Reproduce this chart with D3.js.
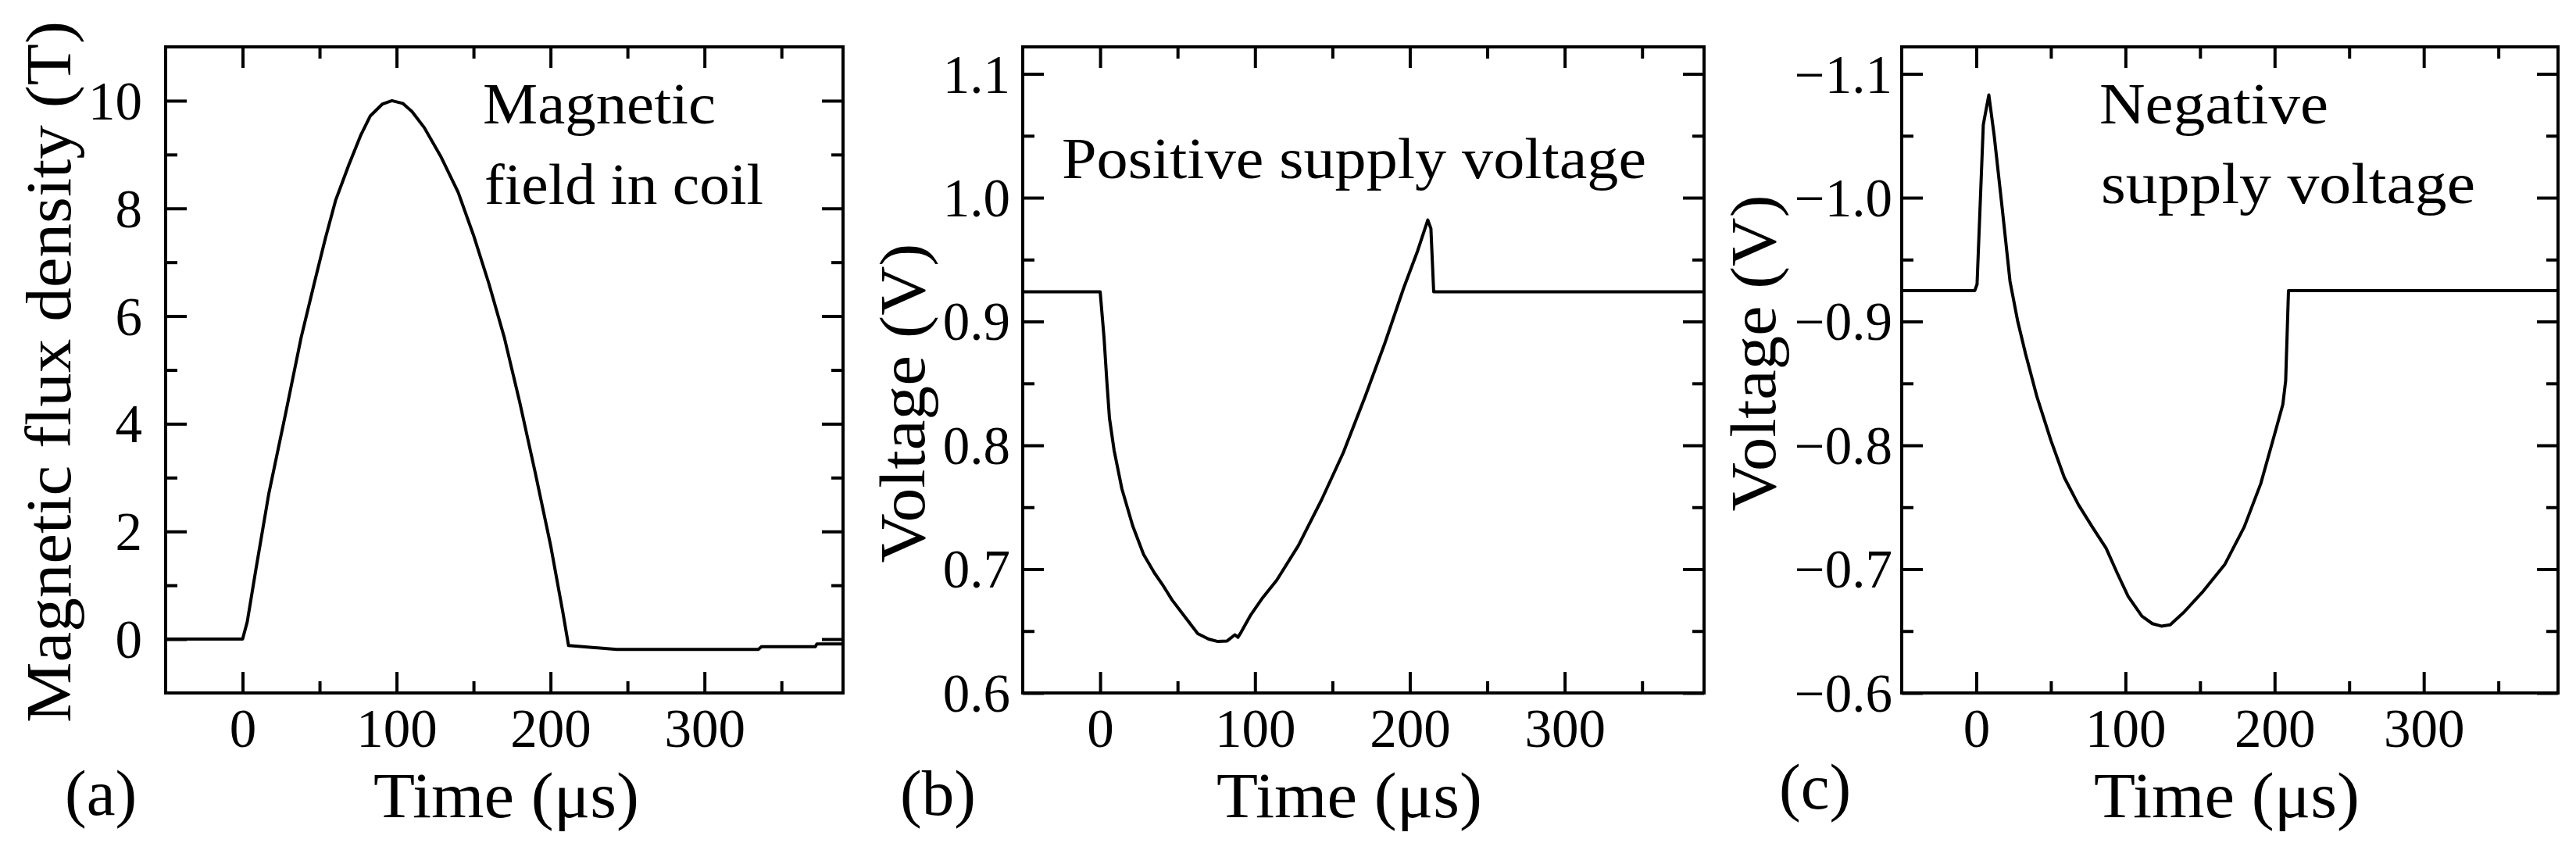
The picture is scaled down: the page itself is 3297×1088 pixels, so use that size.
<!DOCTYPE html>
<html>
<head>
<meta charset="utf-8">
<script src="https://cdn.jsdelivr.net/npm/d3@7"></script>
<style>
  html, body { margin: 0; padding: 0; background: #fff; }
  svg { display: block; }
  text { font-family: "Liberation Serif", "Times New Roman", serif; fill: #000; }
</style>
</head>
<body>
<svg id="chart" width="3297" height="1088"></svg>
<script>
// ---------- data ----------
const timeDomain = [-50, 390];
const xMajorTicks = [0, 100, 200, 300];
const xMinorTicks = [50, 150, 250, 350];

// (a) magnetic flux density (T)
const tA = [-50, 0, 3, 8.6, 17, 28, 38, 46.7, 53.8, 60.4, 69, 76.6, 83, 90.9, 97, 104, 110, 118, 129, 140, 150, 160, 170, 180, 190, 200, 208, 211.7, 221, 243, 335, 337, 372, 373, 390];
const bA = [0, 0, 0.32, 1.29, 2.7, 4.2, 5.6, 6.63, 7.45, 8.15, 8.81, 9.35, 9.72, 9.94, 10.0, 9.95, 9.8, 9.5, 8.95, 8.3, 7.5, 6.6, 5.6, 4.4, 3.1, 1.75, 0.5, -0.12, -0.14, -0.19, -0.19, -0.14, -0.14, -0.09, -0.09];
const yDomainA = [-1, 11];
const yMajorA = [0, 2, 4, 6, 8, 10];
const yMinorA = [1, 3, 5, 7, 9];

// (b) positive supply voltage (V)
const tB = [-50, 0, 2.5, 4.3, 6, 9, 14, 21, 28, 35, 40, 46.5, 55, 63, 70, 76, 82, 87, 89, 91, 97, 105, 114, 128, 143, 157, 171, 184, 196, 205, 211.6, 213.6, 215.4, 390];
const vB = [0.924, 0.924, 0.887, 0.852, 0.822, 0.796, 0.765, 0.735, 0.712, 0.697, 0.688, 0.675, 0.661, 0.648, 0.6435, 0.6416, 0.642, 0.647, 0.645, 0.649, 0.6625, 0.677, 0.691, 0.719, 0.756, 0.794, 0.839, 0.883, 0.927, 0.957, 0.982, 0.975, 0.924, 0.924];
const yDomainB = [0.6, 1.1218];
const yMajorB = [0.6, 0.7, 0.8, 0.9, 1.0, 1.1];
const yMinorB = [0.65, 0.75, 0.85, 0.95, 1.05];

// (c) negative supply voltage (V)
const tC = [-50, -1, 0.5, 4.7, 8.4, 12, 17.4, 22.6, 27.8, 33, 40.7, 50, 59, 68.5, 77.8, 87, 94.4, 101.8, 111, 118, 124, 130, 139, 152, 166.7, 179.6, 190.7, 200, 205.5, 207.4, 209.3, 390];
const vC = [-0.925, -0.925, -0.93, -1.059, -1.083, -1.050, -0.991, -0.9325, -0.900, -0.874, -0.839, -0.804, -0.774, -0.752, -0.734, -0.717, -0.697, -0.678, -0.662, -0.656, -0.654, -0.655, -0.665, -0.682, -0.704, -0.734, -0.769, -0.809, -0.833, -0.852, -0.925, -0.925];
const yDomainC = [-0.6, -1.1218];
const yMajorC = [-0.6, -0.7, -0.8, -0.9, -1.0, -1.1];
const yMinorC = [-0.65, -0.75, -0.85, -0.95, -1.05];

const xTitle = "Time (\u03bcs)";
const yTitles = ["Magnetic flux density (T)", "Voltage (V)", "Voltage (V)"];
const panelLetters = ["(a)", "(b)", "(c)"];
const notesA = ["Magnetic", "field in coil"];
const notesB = ["Positive supply voltage"];
const notesC = ["Negative", "supply voltage"];

// ---------- layout ----------
const TOP = 60, BOTTOM = 887;
const MAJOR = 27, MINOR = 15, SW = 4;
const TICK_FONT = 69, TITLE_FONT = 83, NOTE_FONT = 74;

const panels = [
  { left: 212, right: 1079, t: tA, v: bA, ydom: yDomainA, major: yMajorA, minor: yMinorA,
    fmt: d3.format("d"), labelPad: 30,
    ytitle: { x: 90, y: 476, len: 898 }, xtitle: { cx: 648, len: 340 },
    letter: { x: 83, y: 1043 },
    notes: notesA, notePos: [{ x: 618, y: 158, len: 298 }, { x: 620, y: 261, len: 357 }] },
  { left: 1309, right: 2181, t: tB, v: vB, ydom: yDomainB, major: yMajorB, minor: yMinorB,
    fmt: d3.format(".1f"), labelPad: 16,
    ytitle: { x: 1183, y: 516, len: 409 }, xtitle: { cx: 1727, len: 340 },
    letter: { x: 1152, y: 1043 },
    notes: notesB, notePos: [{ x: 1359, y: 228, len: 748 }] },
  { left: 2434, right: 3274, t: tC, v: vC, ydom: yDomainC, major: yMajorC, minor: yMinorC,
    fmt: d3.format(".1f"), labelPad: 12,
    ytitle: { x: 2272, y: 452, len: 405 }, xtitle: { cx: 2850, len: 340 },
    letter: { x: 2277, y: 1035 },
    notes: notesC, notePos: [{ x: 2687, y: 158, len: 293 }, { x: 2689, y: 260, len: 479 }] }
];

const svg = d3.select("#chart");

function styleAxis(g) {
  g.select(".domain").remove();
  g.selectAll(".tick line").attr("stroke", "#000").attr("stroke-width", SW);
  g.selectAll("text").attr("font-family", "Liberation Serif, serif").attr("font-size", TICK_FONT).attr("fill", "#000");
}

panels.forEach((p, i) => {
  const g = svg.append("g");
  const x = d3.scaleLinear().domain(timeDomain).range([p.left, p.right]);
  const y = d3.scaleLinear().domain(p.ydom).range([BOTTOM, TOP]);

  // bottom axis (labels)
  const gb = g.append("g").attr("transform", `translate(0,${BOTTOM})`)
    .call(d3.axisBottom(x).tickValues(xMajorTicks).tickSizeInner(-MAJOR).tickSizeOuter(0).tickFormat(d3.format("d")));
  styleAxis(gb);
  gb.selectAll("text").attr("y", 69).attr("dy", 0);
  g.append("g").attr("transform", `translate(0,${BOTTOM})`)
    .call(d3.axisBottom(x).tickValues(xMinorTicks).tickSizeInner(-MINOR).tickSizeOuter(0).tickFormat(""))
    .call(styleAxis);
  // top axis (mirrored ticks)
  g.append("g").attr("transform", `translate(0,${TOP})`)
    .call(d3.axisTop(x).tickValues(xMajorTicks).tickSizeInner(-MAJOR).tickSizeOuter(0).tickFormat(""))
    .call(styleAxis);
  g.append("g").attr("transform", `translate(0,${TOP})`)
    .call(d3.axisTop(x).tickValues(xMinorTicks).tickSizeInner(-MINOR).tickSizeOuter(0).tickFormat(""))
    .call(styleAxis);

  // left axis (labels)
  const gl = g.append("g").attr("transform", `translate(${p.left},0)`)
    .call(d3.axisLeft(y).tickValues(p.major).tickSizeInner(-MAJOR).tickSizeOuter(0).tickPadding(p.labelPad).tickFormat(p.fmt));
  styleAxis(gl);
  gl.selectAll("text").attr("x", -p.labelPad).attr("dy", "0.34em");
  g.append("g").attr("transform", `translate(${p.left},0)`)
    .call(d3.axisLeft(y).tickValues(p.minor).tickSizeInner(-MINOR).tickSizeOuter(0).tickFormat(""))
    .call(styleAxis);
  // right axis (mirrored ticks)
  g.append("g").attr("transform", `translate(${p.right},0)`)
    .call(d3.axisRight(y).tickValues(p.major).tickSizeInner(-MAJOR).tickSizeOuter(0).tickFormat(""))
    .call(styleAxis);
  g.append("g").attr("transform", `translate(${p.right},0)`)
    .call(d3.axisRight(y).tickValues(p.minor).tickSizeInner(-MINOR).tickSizeOuter(0).tickFormat(""))
    .call(styleAxis);

  // frame
  g.append("rect")
    .attr("x", p.left).attr("y", TOP)
    .attr("width", p.right - p.left).attr("height", BOTTOM - TOP)
    .attr("fill", "none").attr("stroke", "#000").attr("stroke-width", SW);

  // curve
  const pts = p.t.map((t, k) => [t, p.v[k]]);
  g.append("path")
    .datum(pts)
    .attr("fill", "none").attr("stroke", "#000").attr("stroke-width", 4)
    .attr("stroke-linejoin", "round").attr("stroke-linecap", "round")
    .attr("d", d3.line().x(d => x(d[0])).y(d => y(d[1])).curve(d3.curveLinear));

  // notes inside plot
  p.notes.forEach((s, k) => {
    const np = p.notePos[k];
    g.append("text").attr("x", np.x).attr("y", np.y)
      .attr("font-size", NOTE_FONT)
      .attr("textLength", np.len).attr("lengthAdjust", "spacingAndGlyphs")
      .text(s);
  });

  // x title
  g.append("text").attr("x", p.xtitle.cx - p.xtitle.len / 2).attr("y", 1046)
    .attr("font-size", TITLE_FONT)
    .attr("textLength", p.xtitle.len).attr("lengthAdjust", "spacingAndGlyphs")
    .text(xTitle);

  // y title (rotated)
  g.append("text")
    .attr("transform", `translate(${p.ytitle.x},${p.ytitle.y + p.ytitle.len / 2}) rotate(-90)`)
    .attr("x", 0).attr("y", 0)
    .attr("font-size", TITLE_FONT)
    .attr("textLength", p.ytitle.len).attr("lengthAdjust", "spacingAndGlyphs")
    .text(yTitles[i]);

  // panel letter
  g.append("text").attr("x", p.letter.x).attr("y", p.letter.y)
    .attr("font-size", TITLE_FONT)
    .text(panelLetters[i]);
});
</script>
</body>
</html>
